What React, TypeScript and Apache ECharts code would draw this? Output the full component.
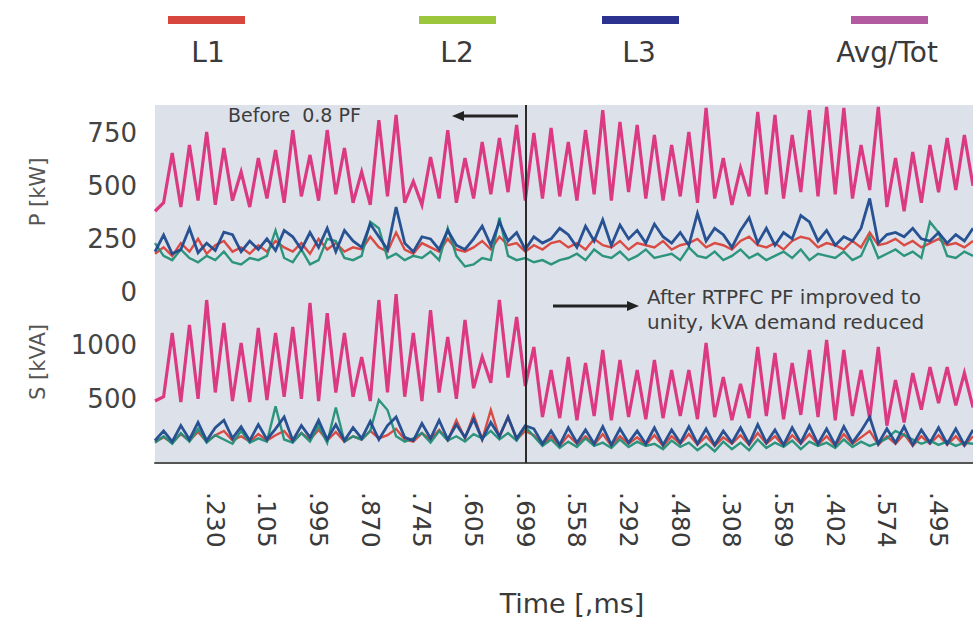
import React, { useEffect, useRef } from "react";
import * as echarts from "echarts";

// ---------- data ----------
const TICK_LABELS = [".230", ".105", ".995", ".870", ".745", ".605", ".699", ".558", ".292", ".480", ".308", ".589", ".402", ".574", ".495"];
const N_SAMPLES = 96;
const TICK_START = 7;
const TICK_STEP = 6;
const SWITCH_INDEX = 43; // RTPFC switched on

// P [kW]
const P_TOT = [
  380, 420, 654, 400, 692, 430, 753, 410, 678, 430, 565, 400,
  630, 440, 668, 420, 762, 450, 645, 430, 762, 460, 678, 420,
  565, 410, 809, 450, 833, 420, 520, 410, 635, 440, 762, 420,
  630, 440, 706, 460, 725, 470, 786, 430, 748, 440, 772, 450,
  706, 430, 762, 460, 856, 430, 800, 470, 786, 440, 739, 430,
  692, 450, 753, 420, 866, 440, 630, 410, 584, 450, 847, 460,
  833, 440, 739, 470, 856, 450, 871, 460, 866, 440, 692, 480,
  871, 400, 630, 380, 659, 420, 692, 470, 725, 480, 739, 500,
];
const P_L1 = [
  180, 210, 170, 230, 190, 250, 180, 220, 240, 190, 210, 180,
  220, 190, 240, 210, 190, 230, 180, 250, 200, 230, 190, 210,
  200, 260, 210, 190, 280, 200, 180, 230, 210, 190, 250, 200,
  190, 210, 240, 200, 260, 220, 230, 190, 220, 200, 230, 240,
  210, 230, 200, 250, 220, 210, 240, 200, 230, 220, 210, 240,
  200, 220, 230, 250, 210, 230, 220, 200, 240, 260, 220, 210,
  230, 200, 240, 260, 250, 210, 230, 220, 200, 240, 210, 280,
  220, 230, 250, 220, 240, 210, 230, 250, 220, 230, 210, 240,
];
const P_L2 = [
  230, 170, 150, 200, 160, 140, 170, 150, 190, 140, 130, 160,
  150, 170, 290, 160, 140, 200, 130, 150, 250, 240, 160, 150,
  170, 330, 300, 160, 180, 150, 170, 160, 190, 150, 300, 170,
  120, 130, 160, 150, 350, 170, 150, 160, 140, 150, 130, 150,
  160, 180, 150, 200, 170, 160, 190, 150, 170, 200, 160, 170,
  180, 150, 210, 170, 160, 190, 150, 170, 200, 160, 180, 150,
  170, 190, 160, 200, 150, 180, 170, 160, 190, 150, 170, 260,
  160, 180, 200, 170, 190, 160, 330, 280, 170, 160, 190, 170,
];
const P_L3 = [
  190, 268, 180, 200, 300, 185, 230, 195, 282, 270, 190, 240,
  200, 250, 195, 290, 260, 200, 280, 210, 300, 190, 290, 240,
  210, 320, 260, 200, 400, 230, 190, 260, 250, 200, 290, 220,
  200, 250, 310, 220, 330, 240, 280, 200, 260, 230, 250, 300,
  270, 210, 310, 240, 340, 220, 315, 250, 290, 230, 320, 260,
  230, 280, 220, 370, 240, 300, 270, 210, 290, 350, 230, 300,
  220, 280, 250, 360, 330, 240, 290, 220, 260, 240, 300, 440,
  230, 270, 280, 260, 300, 250, 240, 280, 230, 270, 240, 300,
];

// S [kVA]
const S_TOT = [
  480, 520, 1116, 470, 1191, 500, 1425, 560, 1210, 480, 1023, 470,
  1163, 490, 1116, 520, 1172, 500, 1397, 480, 1303, 560, 1116, 520,
  892, 480, 1425, 560, 1480, 520, 1116, 480, 1331, 560, 1079, 500,
  1238, 600, 892, 650, 1425, 700, 1266, 620, 985, 330, 770, 320,
  892, 300, 836, 340, 957, 300, 864, 330, 770, 310, 864, 320,
  770, 340, 770, 310, 1023, 330, 705, 300, 640, 320, 985, 340,
  929, 310, 836, 350, 957, 330, 1051, 300, 957, 340, 770, 320,
  985, 250, 677, 280, 742, 400, 798, 460, 798, 440, 742, 420,
];
const S_L1 = [
  100, 140, 90, 170, 110, 190, 100, 160, 200, 110, 150, 100,
  170, 110, 160, 200, 100, 180, 120, 210, 110, 190, 100, 150,
  120, 200, 130, 160, 220, 120, 100, 180, 120, 210, 110, 300,
  130, 350, 120, 396, 140, 330, 120, 200, 160, 70, 150, 60,
  160, 80, 150, 70, 170, 60, 150, 80, 140, 70, 160, 60,
  150, 80, 170, 70, 150, 60, 140, 80, 160, 70, 180, 80,
  150, 60, 160, 80, 170, 70, 150, 60, 170, 80, 140, 200,
  70, 150, 80, 170, 60, 150, 80, 160, 70, 150, 60, 150,
];
const S_L2 = [
  90, 150, 80, 180, 100, 220, 90, 160, 120, 80, 200, 90,
  130, 100, 430, 120, 90, 180, 100, 250, 90, 420, 100, 150,
  120, 200, 490, 396, 150, 100, 130, 180, 90, 200, 110, 150,
  100, 170, 130, 200, 120, 180, 110, 240, 150, 60, 120, 40,
  100, 50, 130, 60, 90, 40, 120, 50, 100, 60, 80, 30,
  110, 50, 90, 20, 80, 10, 100, 30, 90, 20, 120, 40,
  90, 50, 110, 30, 100, 60, 90, 40, 120, 50, 100, 60,
  90, 130, 200, 160, 120, 80, 110, 70, 100, 60, 90, 80,
];
const S_L3 = [
  110, 200, 100, 250, 120, 280, 110, 230, 300, 130, 240, 110,
  260, 120, 220, 330, 110, 250, 140, 300, 120, 260, 110, 230,
  130, 290, 120, 250, 330, 140, 110, 270, 130, 300, 120, 260,
  140, 310, 120, 280, 150, 330, 130, 250, 220, 80, 200, 70,
  230, 90, 210, 80, 240, 70, 220, 90, 200, 80, 230, 70,
  210, 90, 240, 80, 220, 70, 200, 90, 230, 80, 260, 90,
  210, 70, 230, 90, 250, 80, 220, 70, 240, 90, 200, 330,
  80, 220, 90, 240, 70, 210, 90, 230, 80, 220, 70, 210,
];

const LEGEND = [
  { name: "L1", swatch: "#d8473d", cx: 208, x0: 168 },
  { name: "L2", swatch: "#9cc63b", cx: 457, x0: 419 },
  { name: "L3", swatch: "#2c3290", cx: 639, x0: 602 },
  { name: "Avg/Tot", swatch: "#b35ba0", cx: 887, x0: 851 },
];
const LINE_COLORS = { L1: "#d9423b", L2: "#238f78", L3: "#1f4a8e", TOT: "#da2f7c" };

const FONT = '"DejaVu Sans", sans-serif';

const categories = Array.from({ length: N_SAMPLES }, (_, i) => {
  const k = (i - TICK_START) / TICK_STEP;
  return Number.isInteger(k) && k >= 0 && k < TICK_LABELS.length ? TICK_LABELS[k] : `#${i}`;
});

function lineSeries(name: string, data: number[], color: string, axis: number, width: number, extra: any = {}) {
  return {
    name,
    type: "line",
    data,
    xAxisIndex: axis,
    yAxisIndex: axis,
    showSymbol: false,
    symbol: "none",
    silent: true,
    lineStyle: { color, width, join: "miter", opacity: 0.95 },
    itemStyle: { color },
    ...extra,
  };
}

const switchLine = {
  silent: true,
  symbol: "none",
  label: { show: false },
  lineStyle: { color: "#2b2b2b", width: 2, type: "solid", opacity: 1 },
  data: [{ xAxis: categories[SWITCH_INDEX] }],
};

function buildOption(): any {
  const gridBase = { left: 155, width: 818, show: true, backgroundColor: "#dde2ea", borderWidth: 0 };
  const graphic: any[] = [];
  LEGEND.forEach((l) => {
    graphic.push({ type: "rect", shape: { x: l.x0, y: 16, width: 77, height: 8 }, style: { fill: l.swatch } });
    graphic.push({
      type: "text", x: l.cx, y: 52,
      style: { text: l.name, font: `28px ${FONT}`, fill: "#3a3a3a", align: "center", verticalAlign: "middle" },
    });
  });
  graphic.push(
    { type: "text", x: 38, y: 192, rotation: Math.PI / 2,
      style: { text: "P [kW]", font: `21px ${FONT}`, fill: "#555", align: "center", verticalAlign: "middle" } },
    { type: "text", x: 38, y: 362, rotation: Math.PI / 2,
      style: { text: "S [kVA]", font: `21px ${FONT}`, fill: "#555", align: "center", verticalAlign: "middle" } },
    { type: "text", x: 572, y: 603,
      style: { text: "Time [,ms]", font: `27px ${FONT}`, fill: "#3a3a3a", align: "center", verticalAlign: "middle" } },
    { type: "text", x: 228, y: 115, z: 10,
      style: { text: "Before  0.8 PF", font: `19px ${FONT}`, fill: "#3d3d3d", align: "left", verticalAlign: "middle" } },
    { type: "text", x: 647, y: 297, z: 10,
      style: { text: "After RTPFC PF improved to", font: `20px ${FONT}`, fill: "#3d3d3d", align: "left", verticalAlign: "middle" } },
    { type: "text", x: 647, y: 322, z: 10,
      style: { text: "unity, kVA demand reduced", font: `20px ${FONT}`, fill: "#3d3d3d", align: "left", verticalAlign: "middle" } },
    { type: "line", z: 10, shape: { x1: 462, y1: 116, x2: 518, y2: 116 }, style: { stroke: "#222", lineWidth: 3 } },
    { type: "polygon", z: 10, shape: { points: [[452, 116], [464, 111], [464, 121]] }, style: { fill: "#222" } },
    { type: "line", z: 10, shape: { x1: 553, y1: 306, x2: 629, y2: 306 }, style: { stroke: "#222", lineWidth: 3 } },
    { type: "polygon", z: 10, shape: { points: [[639, 306], [627, 301], [627, 311]] }, style: { fill: "#222" } }
  );

  const yLabel = { color: "#444", fontSize: 26, fontFamily: FONT, margin: 18 };

  return {
    animation: false,
    textStyle: { fontFamily: FONT },
    grid: [
      { ...gridBase, top: 105, height: 187 },
      { ...gridBase, top: 292, height: 171 },
    ],
    xAxis: [
      { type: "category", gridIndex: 0, data: categories, boundaryGap: false, show: false },
      {
        type: "category", gridIndex: 1, data: categories, boundaryGap: false, position: "bottom",
        axisLine: { show: true, onZero: false, lineStyle: { color: "#555", width: 2 } },
        axisTick: { show: false },
        splitLine: { show: false },
        axisLabel: {
          interval: (_i: number, v: string) => !String(v).startsWith("#"),
          rotate: -90, margin: 29, fontSize: 25, color: "#3a3a3a", fontFamily: FONT,
        },
      },
    ],
    yAxis: [
      {
        type: "value", gridIndex: 0, min: 0, max: 880, interval: 250,
        axisLine: { show: false }, axisTick: { show: false }, splitLine: { show: false },
        axisLabel: { ...yLabel, showMaxLabel: false, formatter: (v: number) => (v % 250 === 0 ? String(v) : "") },
      },
      {
        type: "value", gridIndex: 1, min: -100, max: 1500, interval: 100,
        axisLine: { show: false }, axisTick: { show: false }, splitLine: { show: false },
        axisLabel: { ...yLabel, showMaxLabel: false, showMinLabel: false, formatter: (v: number) => (v === 500 || v === 1000 ? String(v) : "") },
      },
    ],
    series: [
      lineSeries("Avg/Tot", P_TOT, LINE_COLORS.TOT, 0, 3.2, { markLine: switchLine }),
      lineSeries("L1", P_L1, LINE_COLORS.L1, 0, 2.4),
      lineSeries("L2", P_L2, LINE_COLORS.L2, 0, 2.4),
      lineSeries("L3", P_L3, LINE_COLORS.L3, 0, 2.8),
      lineSeries("Avg/Tot", S_TOT, LINE_COLORS.TOT, 1, 3.2, { markLine: switchLine }),
      lineSeries("L1", S_L1, LINE_COLORS.L1, 1, 2.4),
      lineSeries("L2", S_L2, LINE_COLORS.L2, 1, 2.4),
      lineSeries("L3", S_L3, LINE_COLORS.L3, 1, 2.8),
    ],
    graphic,
  };
}

export default function App() {
  const ref = useRef<HTMLDivElement>(null);
  useEffect(() => {
    if (!ref.current) return;
    const chart = echarts.init(ref.current, null, { renderer: "svg" });
    chart.setOption(buildOption());
    return () => chart.dispose();
  }, []);
  return <div ref={ref} style={{ position: "absolute", left: 0, top: 0, width: 973, height: 625 }} />;
}
